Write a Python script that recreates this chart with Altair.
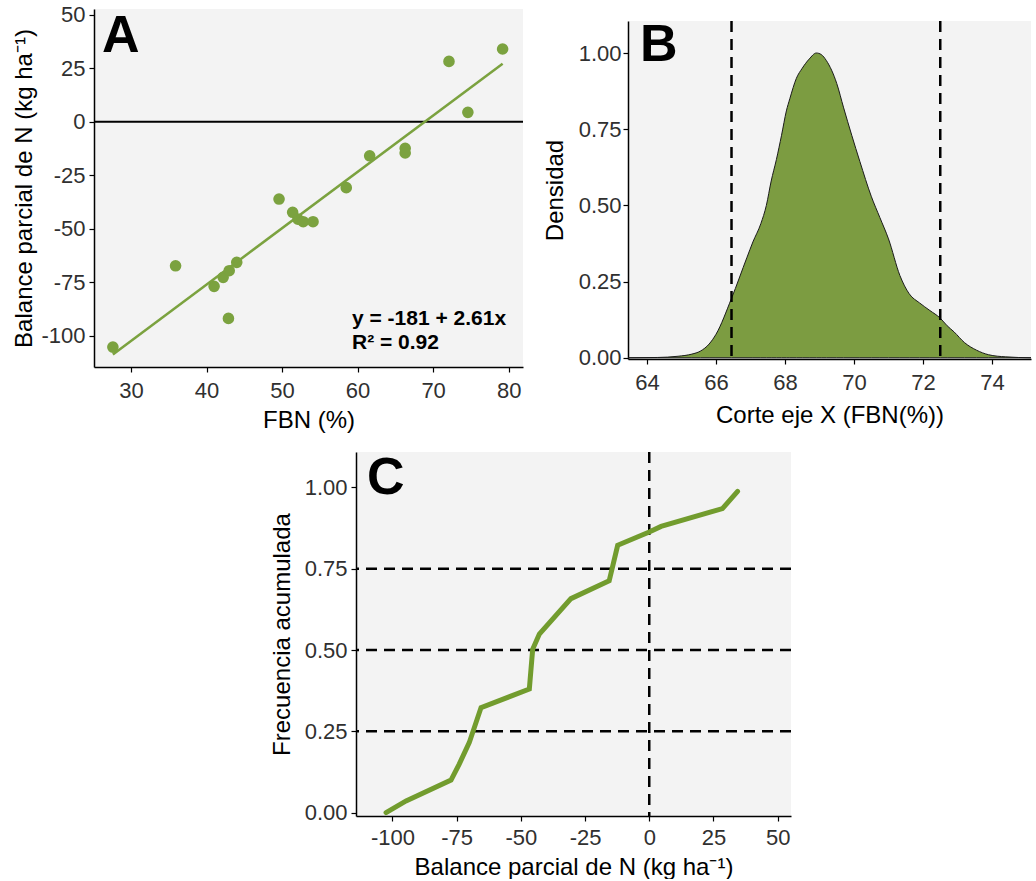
import altair as alt
import pandas as pd

# ---------------- Panel A data ----------------
fbn = [27.6, 35.9, 41.0, 42.2, 43.0, 44.0, 42.9, 49.6, 51.4, 52.1, 52.8, 54.1,
       58.5, 61.6, 66.3, 66.3, 72.1, 74.6, 79.2]
balance = [-105.3, -67.3, -76.9, -72.7, -69.6, -65.7, -91.9, -36.1, -42.3, -45.5,
           -46.7, -46.7, -30.8, -15.9, -12.4, -14.6, 28.2, 4.4, 34.0]
eq_lines = ["y = -181 + 2.61x", "R² = 0.92"]
a_xticks = [30, 40, 50, 60, 70, 80]
a_yticks = [-100, -75, -50, -25, 0, 25, 50]

# ---------------- Panel B data ----------------
cut_x = [63.45, 64.3, 64.9, 65.3, 65.55, 65.8, 66.0, 66.45, 66.9, 67.07, 67.3, 67.46,
         67.6, 67.75, 67.9, 68.04, 68.14, 68.33, 68.5, 68.7, 68.91, 69.05, 69.2, 69.5,
         69.7, 70.17, 70.5, 70.75, 71.0, 71.33, 71.6, 71.9, 72.2, 72.5, 72.7, 72.9,
         73.2, 73.55, 73.9, 74.4, 75.13]
density = [0.0, 0.001, 0.005, 0.012, 0.022, 0.045, 0.077, 0.195, 0.33, 0.38, 0.44, 0.5,
           0.58, 0.65, 0.73, 0.81, 0.85, 0.917, 0.95, 0.98, 1.0, 0.995, 0.975, 0.9,
           0.82, 0.644, 0.53, 0.46, 0.39, 0.27, 0.21, 0.18, 0.155, 0.13, 0.105, 0.085,
           0.05, 0.025, 0.01, 0.003, 0.0]
cut_limits = [66.45, 72.5]
b_xticks = [64, 66, 68, 70, 72, 74]
b_yticks = [0.0, 0.25, 0.5, 0.75, 1.0]

# ---------------- Panel C data ----------------
bal_c = [-102.5, -94.7, -77.2, -74.0, -70.1, -65.5, -46.7, -45.4, -42.8, -30.5,
         -15.6, -12.3, 0.0, 4.6, 28.5, 34.4]
freq_c = [0.0, 0.036, 0.10, 0.149, 0.215, 0.323, 0.38, 0.502, 0.549, 0.658,
          0.713, 0.822, 0.863, 0.88, 0.935, 0.988]
quartiles = [0.25, 0.5, 0.75]
c_vline = [0]
c_xticks = [-100, -75, -50, -25, 0, 25, 50]
c_yticks = [0.0, 0.25, 0.5, 0.75, 1.0]

FONT = "Liberation Sans"
BG = "#F3F3F3"
GREEN = "#7BA23F"
FILL = "#7C9C41"
LINE_C = "#729C2E"
DASH = [11, 7]
HYPHEN = "replace(datum.label, '\u2212', '-')"
one = pd.DataFrame({"k": [0]})


def letter(t, px, py):
    return alt.Chart(one).mark_text(
        text=t, fontSize=52, fontWeight="bold", font=FONT, align="left",
        baseline="alphabetic", color="black"
    ).encode(x=alt.value(px), y=alt.value(py))


def spacer(w, h):
    return alt.Chart(one).mark_rule(opacity=0).encode(
        x=alt.value(0), y=alt.value(0), y2=alt.value(1)
    ).properties(width=w, height=h)


# ---------------- Panel A ----------------
df_a = pd.DataFrame({"fbn": fbn, "balance": balance})
xA = alt.X("fbn:Q", scale=alt.Scale(domain=[25.1, 81.9], nice=False, zero=False),
           axis=alt.Axis(values=a_xticks, title="FBN (%)", labelPadding=8,
                         titlePadding=7))
yA = alt.Y("balance:Q", scale=alt.Scale(domain=[-114.6, 52.7], nice=False, zero=False),
           axis=alt.Axis(values=a_yticks, title="Balance parcial de N (kg ha⁻¹)",
                         labelExpr=HYPHEN, labelPadding=4, titlePadding=4))
hline = alt.Chart(one).mark_rule(color="black", strokeWidth=2).encode(y=alt.datum(0))
pts = alt.Chart(df_a).mark_circle(size=135, color=GREEN, opacity=1).encode(x=xA, y=yA)
reg = alt.Chart(df_a).transform_regression("fbn", "balance").mark_line(
    color=GREEN, strokeWidth=2.5).encode(x="fbn:Q", y="balance:Q")
eq1 = alt.Chart(one).mark_text(text=eq_lines[0], fontSize=21, fontWeight="bold", font=FONT,
                               align="left", baseline="alphabetic", color="black").encode(
    x=alt.value(258), y=alt.value(316))
eq2 = alt.Chart(one).mark_text(text=eq_lines[1], fontSize=21, fontWeight="bold", font=FONT,
                               align="left", baseline="alphabetic", color="black").encode(
    x=alt.value(258), y=alt.value(340))
panelA = alt.layer(hline, pts, reg, eq1, eq2, letter("A", 8, 43)).properties(
    width=429, height=358, view=alt.ViewBackground(fill=BG, strokeWidth=0))

# ---------------- Panel B ----------------
df_b = pd.DataFrame({"x": cut_x, "d": density})
xB = alt.X("x:Q", scale=alt.Scale(domain=[63.45, 75.13], nice=False, zero=False),
           axis=alt.Axis(values=b_xticks, title="Corte eje X (FBN(%))", labelPadding=8,
                         titlePadding=10))
yB = alt.Y("d:Q", scale=alt.Scale(domain=[-0.004, 1.105], nice=False, zero=False),
           axis=alt.Axis(values=b_yticks, format=".2f", title="Densidad",
                         labelPadding=2, titlePadding=11))
area = alt.Chart(df_b).mark_area(fill=FILL, stroke="#1a1a1a", strokeWidth=1,
                                 interpolate="monotone").encode(x=xB, y=yB)
cuts = alt.Chart(pd.DataFrame({"c": cut_limits})).mark_rule(
    color="black", strokeWidth=2.5, strokeDash=DASH).encode(x="c:Q")
panelB = alt.layer(area, cuts, letter("B", 12, 40)).properties(
    width=403, height=338, view=alt.ViewBackground(fill=BG, strokeWidth=0))

# ---------------- Panel C ----------------
df_c = pd.DataFrame({"b": bal_c, "f": freq_c})
xC = alt.X("b:Q", scale=alt.Scale(domain=[-114.2, 55.2], nice=False, zero=False),
           axis=alt.Axis(values=c_xticks, title="Balance parcial de N (kg ha⁻¹)",
                         labelExpr=HYPHEN, labelPadding=6, titlePadding=7))
yC = alt.Y("f:Q", scale=alt.Scale(domain=[-0.0105, 1.109], nice=False, zero=False),
           axis=alt.Axis(values=c_yticks, format=".2f", title="Frecuencia acumulada",
                         labelPadding=4, titlePadding=10))
hq = alt.Chart(pd.DataFrame({"q": quartiles})).mark_rule(
    color="black", strokeWidth=2.5, strokeDash=DASH).encode(y="q:Q")
vz = alt.Chart(pd.DataFrame({"z": c_vline})).mark_rule(
    color="black", strokeWidth=2.5, strokeDash=DASH).encode(x="z:Q")
ecdf = alt.Chart(df_c).mark_line(color=LINE_C, strokeWidth=5, strokeCap="round").encode(
    x=xC, y=yC)
panelC = alt.layer(hq, vz, ecdf, letter("C", 11, 42)).properties(
    width=435, height=364, view=alt.ViewBackground(fill=BG, strokeWidth=0))

top = alt.hconcat(panelA, alt.vconcat(spacer(1, 10), panelB, spacing=0),
                  spacing=19)
bottom = alt.hconcat(spacer(1, 1), panelC, spacing=175)

chart = alt.vconcat(top, bottom, spacing=18).properties(
    padding={"left": 12, "top": 3, "right": 0, "bottom": 0}
).configure(font=FONT).configure_axis(
    domainColor="black", domainWidth=1.5, tickColor="black", tickSize=5, tickWidth=1.2,
    labelFontSize=22, labelColor="#303030", labelFont=FONT,
    titleFontSize=24, titleFontWeight="normal", titleColor="black", titleFont=FONT,
    grid=False
).configure_view(strokeWidth=0)

chart.save("out.html", embed_options={"renderer": "svg", "actions": False})
